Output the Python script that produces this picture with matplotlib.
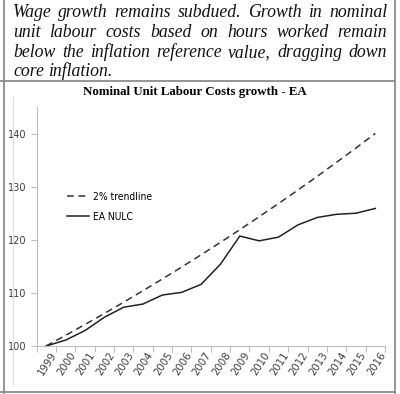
import matplotlib
matplotlib.use("Agg")
import matplotlib.pyplot as plt
from matplotlib.lines import Line2D

years = ["1999", "2000", "2001", "2002", "2003", "2004", "2005", "2006", "2007",
         "2008", "2009", "2010", "2011", "2012", "2013", "2014", "2015", "2016"]
trend_2pct = [100.0, 102.0, 104.04, 106.12, 108.24, 110.41, 112.62, 114.87, 117.17,
              119.51, 121.9, 124.34, 126.82, 129.36, 131.95, 134.59, 137.28, 140.02]
ea_nulc = [100.0, 101.1, 102.9, 105.4, 107.3, 107.9, 109.6, 110.1, 111.6,
           115.4, 120.7, 119.8, 120.5, 122.8, 124.2, 124.8, 125.0, 125.9]
y_ticks = [100, 110, 120, 130, 140]
series_labels = ["2% trendline", "EA NULC"]
title = "Nominal Unit Labour Costs growth - EA"
text_lines = [
    "Wage growth remains subdued. Growth in nominal",
    "unit labour costs based on hours worked remain",
    "below the inflation reference value, dragging down",
    "core inflation.",
]

W, H = 400, 394
narrow = {"family": "DejaVu Sans", "stretch": "condensed"}
serif = ["Liberation Serif", "DejaVu Serif"]

fig = plt.figure(figsize=(W / 100, H / 100), dpi=100)


def fx(x):
    return x / W


def fy(y):
    return 1 - y / H


def fig_line(xs, ys, **kw):
    fig.add_artist(Line2D([fx(x) for x in xs], [fy(y) for y in ys],
                          transform=fig.transFigure, **kw))


# frame lines
frame_c = "#8c8c8c"
fig_line([4, 4], [0, 394], color=frame_c, lw=1.3)
fig_line([395, 395], [0, 394], color=frame_c, lw=1.3)
fig_line([0, 395], [80.5, 80.5], color=frame_c, lw=1.3)
fig_line([0, 395], [391.5, 391.5], color=frame_c, lw=1.3)
fig_line([13, 13], [97, 385], color="#e0e0e0", lw=0.8)

# justified italic paragraph
renderer = fig.canvas.get_renderer()
left, right = 13, 387
baselines = [17, 36.7, 56.7, 75.5]

probe_fs = 10
probe_w = 0
for line in text_lines:
    t = fig.text(0, 0, line, fontsize=probe_fs, family=serif, style="italic")
    probe_w = max(probe_w, t.get_window_extent(renderer).width)
    t.remove()
fs_par = 0.975 * probe_fs * (right - left) / probe_w

for li, (line, base) in enumerate(zip(text_lines, baselines)):
    words = line.split(" ")
    arts = [fig.text(0, fy(base), w, fontsize=fs_par, family=serif, style="italic",
                     va="baseline", ha="left", color="#111111") for w in words]
    widths = [a.get_window_extent(renderer).width for a in arts]
    last = li == len(text_lines) - 1
    if last or len(words) == 1:
        gap = fs_par * 100 / 72 * 0.25
    else:
        gap = (right - left - sum(widths)) / (len(words) - 1)
    x = left
    for a, w in zip(arts, widths):
        a.set_x(fx(x))
        x += w + gap

fig.text(fx(194.5), fy(94.5), title, fontsize=9.3, family=serif, weight="bold",
         ha="center", va="baseline")

# axes
ax_l, ax_r, ax_t, ax_b = 36.5, 385, 107, 346
ax = fig.add_axes([fx(ax_l), fy(ax_b), (ax_r - ax_l) / W, (ax_b - ax_t) / H])
xpos = list(range(len(years)))
ax.plot(xpos, trend_2pct, color="#333333", lw=1.1, dashes=(4.5, 3),
        label=series_labels[0])
ax.plot(xpos, ea_nulc, color="#222222", lw=1.1, label=series_labels[1])
ax.set_xlim(-0.5, len(years) - 0.5)
ax.set_ylim(100, 145)
ax.set_yticks(y_ticks)
ax.set_yticklabels([str(v) for v in y_ticks], fontsize=7.8, color="#404040",
                   **narrow)
ax.set_xticks([i - 0.5 for i in range(len(years) + 1)])
ax.set_xticklabels([])
ax.tick_params(axis="both", color="#bfbfbf", length=4, width=0.8)
ax.tick_params(axis="y", pad=3)
for s in ["top", "right"]:
    ax.spines[s].set_visible(False)
for s in ["left", "bottom"]:
    ax.spines[s].set_color("#bfbfbf")
    ax.spines[s].set_linewidth(0.8)
ax.patch.set_alpha(0)

for i, yr in enumerate(years):
    ax.text(i + 0.2, -0.018, yr, transform=ax.get_xaxis_transform(),
            rotation=57, rotation_mode="anchor", ha="right", va="top",
            fontsize=8.2, color="#404040", **narrow)

leg = ax.legend(loc="upper left", bbox_to_anchor=(fx(67), fy(192)),
                bbox_transform=fig.transFigure, frameon=False,
                prop={"family": "DejaVu Sans", "stretch": "condensed", "size": 7.4},
                handlelength=2.1, handletextpad=0.4, labelspacing=0.95,
                borderpad=0, borderaxespad=0)

fig.savefig("out.png", dpi=100)
